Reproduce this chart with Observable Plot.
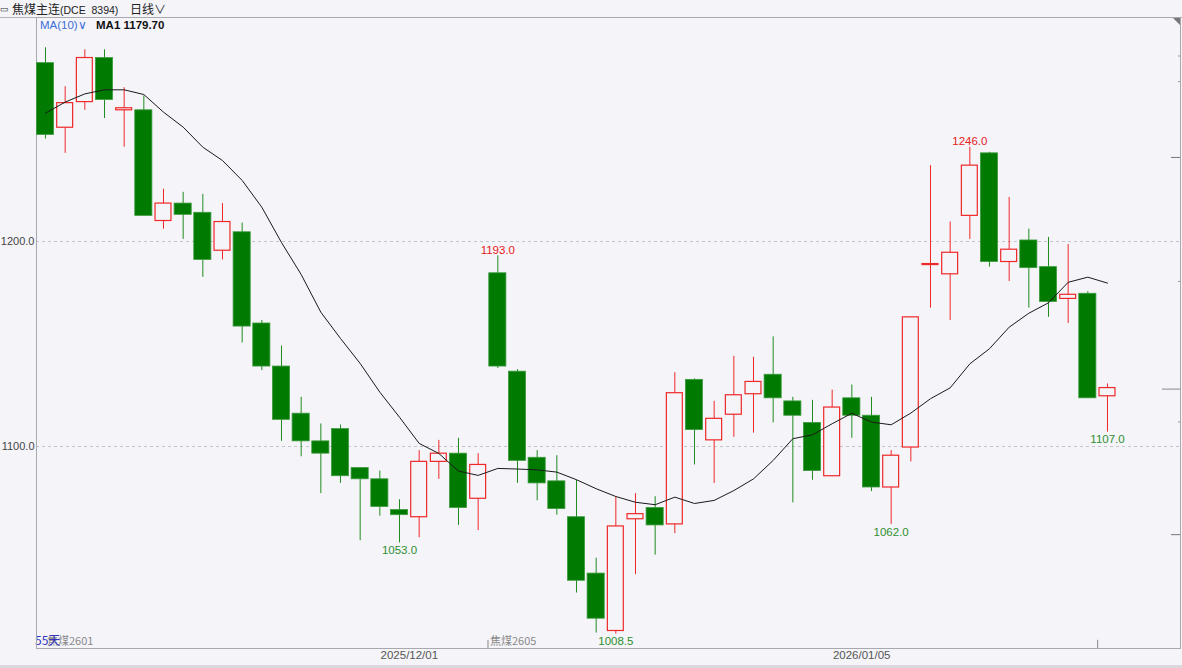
<!DOCTYPE html>
<html><head><meta charset="utf-8">
<script src="https://cdn.jsdelivr.net/npm/d3@7"></script>
<script src="https://cdn.jsdelivr.net/npm/@observablehq/plot@0.6"></script>
<style>
html,body{margin:0;padding:0;background:#f4f4f9;}
#wrap{position:relative;width:1182px;height:668px;overflow:hidden;background:#f4f4f9;}
#chart{position:absolute;left:0;top:0;}
.hdr{position:absolute;left:0;top:0;width:1182px;height:17px;border-bottom:1px solid #b4b4bc;}
.t{position:absolute;white-space:nowrap;font-family:"Noto Sans CJK SC","Liberation Sans",sans-serif;}
.tri{position:absolute;left:1172px;top:17px;width:0;height:0;border-top:8px solid #777;border-left:8px solid transparent;}
.foot{position:absolute;left:0;top:665px;width:1182px;height:3px;background:#d8d8de;}
</style></head>
<body>
<div id="wrap">
  <div class="hdr"></div>
  <div class="t" style="left:0px;top:2px;font-size:9px;color:#333;">▭</div>
  <div class="t" style="left:12px;top:0px;font-size:12px;line-height:17px;color:#222;">焦煤主连<span style="font-size:10.5px;font-family:'Liberation Sans';">(DCE&nbsp;&nbsp;8394)</span></div>
  <div class="t" style="left:130px;top:0px;font-size:12px;line-height:17px;color:#222;">日线∨</div>
  <div class="t" style="left:40px;top:18px;font-size:11.5px;line-height:15px;color:#3c6fd8;font-family:'Liberation Sans';">MA(10)∨</div>
  <div class="t" style="left:96px;top:18px;font-size:11.5px;line-height:15px;color:#111;font-weight:bold;font-family:'Liberation Sans';">MA1 1179.70</div>
  <div class="tri"></div>
  <div class="t" style="left:47px;top:633px;font-size:11px;line-height:15px;color:#8a8a8a;">焦煤2601</div>
  <div class="t" style="left:490px;top:633px;font-size:11px;line-height:15px;color:#8a8a8a;">焦煤2605</div>
  <div class="t" style="left:35px;top:632px;font-size:12px;line-height:15px;color:#3333bb;">55天</div>
  <div class="foot"></div>
  <div id="chart"></div>
</div>
<script>
// ---- data ----
const opens  = [1287,1255.5,1268,1289.5,1264,1264,1210,1218.5,1214,1195.5,1204.5,1160,1139,1116,1102.5,1108.5,1089.5,1084,1069,1065.5,1092.5,1096.5,1074.5,1184.5,1136.5,1094.5,1083,1065.5,1038,1010,1064.5,1070,1062,1132.5,1103,1115.5,1125.5,1135,1122,1111.5,1085.5,1123.5,1115,1080,1099.5,1188.5,1184,1212.5,1243,1190,1200.5,1187.5,1172,1174.5,1124.5];
const highs  = [1294.5,1275.5,1293.5,1293.5,1275,1271,1225.5,1224,1223,1218.5,1209,1161.5,1149,1124,1111,1110.5,1089.5,1088,1074,1098,1103,1104,1096.5,1193,1137.5,1098,1095.5,1083.5,1045.5,1075.5,1077,1075.5,1136,1133,1122,1144,1143.5,1153.5,1124,1122.5,1127.5,1130,1124,1098,1163,1237,1209.5,1246,1243.5,1221.5,1206,1202,1198.5,1175.5,1130.5];
const lows   = [1250,1243,1264,1260,1246,1212.5,1206,1201,1182.5,1191,1150.5,1137,1102.5,1095,1077,1082,1054,1066,1053,1055.5,1084,1061.5,1059,1138,1082,1073.5,1066.5,1028.5,1009,1008.5,1037.5,1047,1057.5,1091,1082,1104.5,1106.5,1111.5,1072.5,1083.5,1085.5,1104,1078,1062,1092.5,1167.5,1161.5,1201,1187.5,1180.5,1167.5,1163,1160,1123.5,1107];
const closes = [1252,1267.5,1289.5,1269,1265,1212.5,1218.5,1213,1191,1209.5,1158.5,1139,1113,1102.5,1096.5,1085.5,1084,1070.5,1066.5,1092.5,1096.5,1070,1091,1139,1093,1082,1069.5,1034.5,1016,1061,1067,1061.5,1126,1108,1113.5,1125,1131.5,1123.5,1115,1088,1119,1115,1080,1095.5,1163,1189,1194.5,1237,1190,1196,1187,1170.5,1174,1123.5,1128.5];
const ma10   = [1262.6,1268,1272,1274,1274,1271.7,1263.1,1255.8,1246,1239.5,1229.8,1216.7,1199.5,1183.9,1165.5,1152.7,1140.5,1126.5,1114.3,1101.5,1096.6,1088,1085.9,1089.3,1089,1088.6,1087.5,1083.8,1079.4,1075.6,1072.8,1071.6,1075.3,1072.2,1073.7,1078.5,1084.2,1093.2,1103.8,1105.7,1111.1,1116.2,1111.9,1110.6,1116.3,1123.3,1128.6,1140.3,1147.7,1158.2,1165,1170.1,1180.1,1182.6,1179.7];
const gridLevels = [1200, 1100];
const highLabelIdx = [23, 47];
const lowLabelIdx = [18, 29, 43, 54];
const dateLabels = ["2025/12/01", "2026/01/05"];
const dateIdx = [18.5, 41.5];
const markIdx = [22.5, 53.5];
const rightTicksMajor = [1241, 1057];
const rightTicksLong = [1128];
const rightTicksMinor = [1290.5, 1278, 1180.5, 1112];

// ---- build ----
const data = opens.map((o, i) => ({i, o, h: highs[i], l: lows[i], c: closes[i], ma: ma10[i]}));
const up = data.filter(d => d.c >= d.o);
const down = data.filter(d => d.c < d.o);
const RED = "#f02828", GREEN = "#007a00", GREEN_W = "#1f8c1f", BG = "#f4f4f9";
const xDomain = [-0.4576, 57.712];
const yDomain = [1001.46, 1309.27];
const pxPerIdx = 1144 / (xDomain[1] - xDomain[0]);
const hw = 0.435;
const tickLen = px => px / pxPerIdx;
const FONT = "'Liberation Sans','DejaVu Sans',sans-serif";

const hiLab = highLabelIdx.map(i => ({i, v: highs[i]}));
const loLab = lowLabelIdx.map(i => ({i, v: lows[i]}));

const plot = Plot.plot({
  width: 1182, height: 668,
  marginLeft: 36, marginRight: 2, marginTop: 17, marginBottom: 20,
  x: {type: "linear", domain: xDomain, axis: null},
  y: {domain: yDomain, axis: null},
  style: {background: "transparent", fontFamily: FONT, fontSize: "11px", color: "#333", overflow: "visible"},
  marks: [
    Plot.ruleY(gridLevels, {stroke: "#c4c4cc", strokeDasharray: "3,3", strokeWidth: 1}),
    Plot.frame({stroke: "#a8a8b0"}),
    Plot.axisY({ticks: gridLevels, tickSize: 0, tickPadding: 2, anchor: "left", tickFormat: d => d.toFixed(1), fill: "#444", fontSize: 11}),
    Plot.ruleY(rightTicksMajor, {x1: xDomain[1] - tickLen(9), x2: xDomain[1], stroke: "#777"}),
    Plot.ruleY(rightTicksLong, {x1: xDomain[1] - tickLen(18), x2: xDomain[1], stroke: "#888"}),
    Plot.ruleY(rightTicksMinor, {x1: xDomain[1] - tickLen(2), x2: xDomain[1], stroke: "#999"}),
    Plot.ruleX(markIdx, {y1: yDomain[0], y2: yDomain[0] + 4, stroke: "#888"}),
    Plot.ruleX(down, {x: "i", y1: "l", y2: "h", stroke: GREEN_W, strokeWidth: 1}),
    Plot.ruleX(up, {x: "i", y1: "l", y2: "h", stroke: RED, strokeWidth: 1}),
    Plot.rect(down, {x1: d => d.i - hw, x2: d => d.i + hw, y1: "o", y2: "c", fill: GREEN, stroke: "#3d9a3d", strokeWidth: 0.8}),
    Plot.rect(up, {x1: d => d.i - hw + 0.03, x2: d => d.i + hw - 0.03, y1: "o", y2: "c", fill: BG, stroke: RED, strokeWidth: 1.2}),
    Plot.line(data, {x: "i", y: "ma", stroke: "#1a1a1a", strokeWidth: 1, curve: "linear"}),
    Plot.text(hiLab, {x: "i", y: "v", text: d => d.v.toFixed(1), fill: "#e82020", lineAnchor: "bottom", dy: -2, fontSize: 11.5}),
    Plot.text(loLab, {x: "i", y: "v", text: d => d.v.toFixed(1), fill: "#2f8f2f", lineAnchor: "top", dy: 3, fontSize: 11.5}),
    Plot.text(dateLabels, {x: (d, k) => dateIdx[k], text: d => d, frameAnchor: "bottom", dy: 10, fill: "#555", fontSize: 11.5})
  ]
});
document.getElementById("chart").appendChild(plot);
</script>
</body></html>
